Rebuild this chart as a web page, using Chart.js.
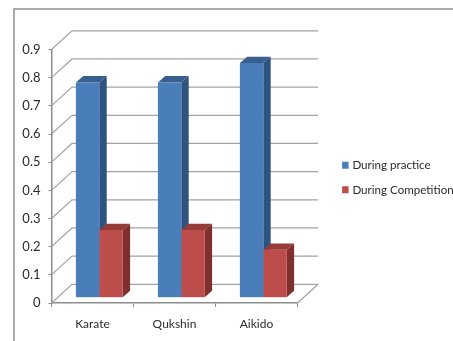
<!DOCTYPE html>
<html>
<head>
<meta charset="utf-8">
<style>
  html, body { margin: 0; padding: 0; background: #fff; }
  canvas { display: block; }
</style>
<script src="https://cdn.jsdelivr.net/npm/chart.js@4/dist/chart.umd.min.js"></script>
</head>
<body>
<canvas id="grafico" width="453" height="341"></canvas>
<script>
const categorias = ['Karate', 'Qukshin', 'Aikido']
const duranteTreino = [0.764, 0.764, 0.833]
const duranteCompeticao = [0.24, 0.24, 0.17]
const valoresEixo = [0, 0.1, 0.2, 0.3, 0.4, 0.5, 0.6, 0.7, 0.8, 0.9]

const fonte = 'Lato'
const corTexto = '#2b2b2b'
const corGrade = '#a3a3a3'
const corEixo = '#8c8c8c'

// profundidade da parede e deslocamento das barras no "piso" 3D
const parede = { dx: 20.5, dy: -18.7 }
const barra = { dx: 6.8, dy: -5.3, fundoX: 7.4, fundoY: -6.4 }

const faces = [
  { lado: '#2f5380', topo: '#37608f' },
  { lado: '#7f2f2d', topo: '#973b39' }
]

const linha = (ctx, pontos, cor, largura) => {
  ctx.beginPath()
  pontos.forEach(([x, y], i) => (i ? ctx.lineTo(x, y) : ctx.moveTo(x, y)))
  ctx.strokeStyle = cor
  ctx.lineWidth = largura
  ctx.stroke()
}

const poligono = (ctx, pontos, cor) => {
  ctx.beginPath()
  pontos.forEach(([x, y], i) => (i ? ctx.lineTo(x, y) : ctx.moveTo(x, y)))
  ctx.closePath()
  ctx.fillStyle = cor
  ctx.fill()
}

const cena3d = {
  id: 'cena3d',
  beforeDraw(chart) {
    const { ctx } = chart
    ctx.save()
    // moldura da figura
    linha(ctx, [[14, 341], [14, 9], [453, 9]], '#8f8f8f', 1.5)
    ctx.restore()
  },
  afterLayout(chart) {
    // legenda mais afastada do gráfico, na altura do meio das barras
    const legenda = chart.legend
    legenda.left = 331
    legenda.right = 453
    legenda.top = 132.5
    legenda.bottom = 222.5
  },
  beforeDatasetsDraw(chart) {
    const { ctx, scales } = chart
    const { x: eixoX, y: eixoY } = scales
    const esq = eixoX.left
    const dir = eixoX.right
    ctx.save()

    // paredes: diagonal a partir do eixo e linha no fundo
    valoresEixo.forEach(v => {
      const y = eixoY.getPixelForValue(v)
      linha(ctx, [[esq, y], [esq + parede.dx, y + parede.dy], [dir + parede.dx, y + parede.dy]], corGrade, 1.2)
    })
    // piso
    const y0 = eixoY.getPixelForValue(0)
    linha(ctx, [[dir, y0], [dir + parede.dx, y0 + parede.dy]], corGrade, 1.2)

    // faces laterais e superiores das barras
    chart.data.datasets.forEach((_, i) => {
      chart.getDatasetMeta(i).data.forEach(el => {
        const { x, y, base, width } = el.getProps(['x', 'y', 'base', 'width'], true)
        const e = x - width / 2 + barra.dx
        const d = x + width / 2 + barra.dx
        const t = y + barra.dy
        const b = base + barra.dy
        poligono(ctx, [[d, t], [d + barra.fundoX, t + barra.fundoY], [d + barra.fundoX, b + barra.fundoY], [d, b]], faces[i].lado)
        poligono(ctx, [[e, t], [e + barra.fundoX, t + barra.fundoY], [d + barra.fundoX, t + barra.fundoY], [d, t]], faces[i].topo)
      })
    })
    ctx.restore()

    // face frontal desenhada pela própria biblioteca, deslocada para dentro do piso
    ctx.save()
    ctx.translate(barra.dx, barra.dy)
  },
  afterDatasetsDraw(chart) {
    chart.ctx.restore()
  }
}

new Chart(document.getElementById('grafico'), {
  type: 'bar',
  data: {
    labels: categorias,
    datasets: [
      { label: 'During practice', data: duranteTreino, backgroundColor: '#4a7ebb' },
      { label: 'During Competition', data: duranteCompeticao, backgroundColor: '#bd4d4a' }
    ]
  },
  plugins: [cena3d],
  options: {
    responsive: false,
    animation: false,
    layout: { padding: { top: 49.5, right: 56.33, bottom: 0, left: 0 } },
    datasets: { bar: { barPercentage: 1, categoryPercentage: 0.571 } },
    scales: {
      x: {
        afterFit: s => { s.height = 38 },
        border: { color: corEixo, width: 1.5 },
        grid: { drawOnChartArea: false, color: corEixo, tickLength: 4, offset: true },
        ticks: { color: corTexto, padding: 9.5, maxRotation: 0, font: { family: fonte, size: 12 } }
      },
      y: {
        min: 0,
        max: 0.9,
        afterFit: s => { s.width = 51.5 },
        afterBuildTicks: s => { s.ticks = valoresEixo.map(value => ({ value })) },
        border: { color: corEixo, width: 1.5 },
        grid: { drawOnChartArea: false, color: corEixo, tickLength: 3 },
        ticks: { color: corTexto, padding: 8, font: { family: fonte, size: 13 }, callback: v => String(v) }
      }
    },
    plugins: {
      tooltip: { enabled: false },
      legend: {
        position: 'right',
        labels: {
          boxWidth: 2.5,
          boxHeight: 3,
          padding: 13.1,
          color: corTexto,
          font: { family: fonte, size: 11.6 },
          // caixa pequena com traço grosso: deixa o texto mais perto do quadradinho
          generateLabels: chart => Chart.defaults.plugins.legend.labels.generateLabels(chart).map(item => ({
            ...item,
            lineWidth: 4,
            strokeStyle: item.fillStyle
          }))
        }
      }
    }
  }
})
</script>
</body>
</html>
